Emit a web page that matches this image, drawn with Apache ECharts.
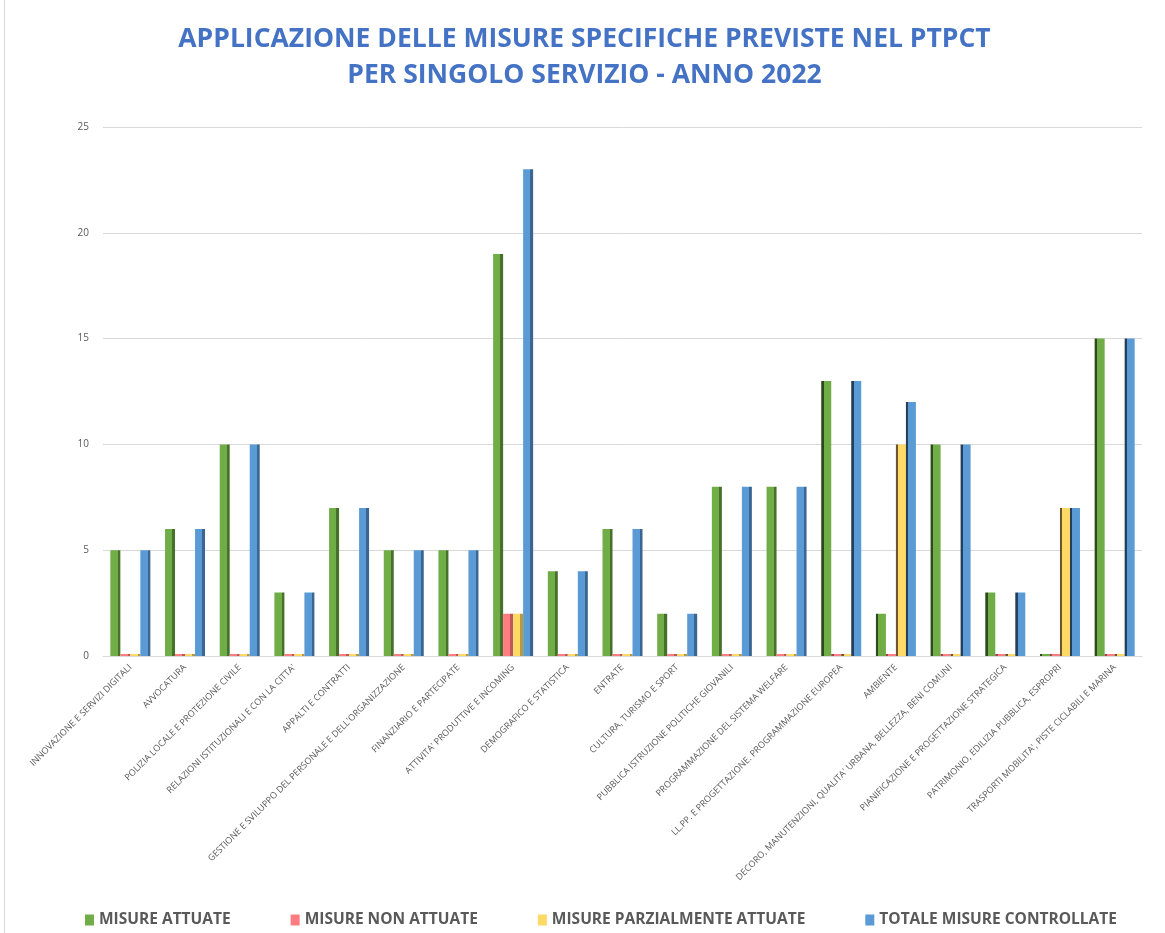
<!DOCTYPE html>
<html>
<head>
<meta charset="utf-8">
<script src="https://cdn.jsdelivr.net/npm/echarts@6/dist/echarts.min.js"></script>
<style>
  html, body { margin: 0; padding: 0; background: #fff; }
  #main { position: absolute; left: 4px; top: 0; width: 1160px; height: 933px; border-left: 1px solid #d9d9d9; box-sizing: border-box; }
</style>
</head>
<body>
<div id="main"></div>
<script>
var categories = [
  'INNOVAZIONE E SERVIZI DIGITALI',
  'AVVOCATURA',
  'POLIZIA LOCALE E PROTEZIONE CIVILE',
  "RELAZIONI ISTITUZIONALI E CON LA CITTA'",
  'APPALTI E CONTRATTI',
  "GESTIONE E SVILUPPO DEL PERSONALE E DELL'ORGANIZZAZIONE",
  'FINANZIARIO E PARTECIPATE',
  "ATTIVITA' PRODUTTIVE E INCOMING",
  'DEMOGRAFICO E STATISTICA',
  'ENTRATE',
  'CULTURA, TURISMO E SPORT',
  'PUBBLICA ISTRUZIONE POLITICHE GIOVANILI',
  'PROGRAMMAZIONE DEL SISTEMA WELFARE',
  'LL.PP. E PROGETTAZIONE. PROGRAMMAZIONE EUROPEA',
  'AMBIENTE',
  "DECORO, MANUTENZIONI, QUALITA' URBANA, BELLEZZA, BENI COMUNI",
  'PIANIFICAZIONE E PROGETTAZIONE STRATEGICA',
  'PATRIMONIO, EDILIZIA PUBBLICA, ESPROPRI',
  "TRASPORTI MOBILITA', PISTE CICLABILI E MARINA"
];
var attuate      = [5, 6, 10, 3, 7, 5, 5, 19, 4, 6, 2, 8, 8, 13, 2, 10, 3, 0, 15];
var nonAttuate   = [0, 0, 0, 0, 0, 0, 0, 2, 0, 0, 0, 0, 0, 0, 0, 0, 0, 0, 0];
var parzialmente = [0, 0, 0, 0, 0, 0, 0, 2, 0, 0, 0, 0, 0, 0, 10, 0, 0, 7, 0];
var totale       = [5, 6, 10, 3, 7, 5, 5, 23, 4, 6, 2, 8, 8, 13, 12, 10, 3, 7, 15];

var seriesNames = ['MISURE ATTUATE', 'MISURE NON ATTUATE', 'MISURE PARZIALMENTE ATTUATE', 'TOTALE MISURE CONTROLLATE'];
var fronts = ['#70AD47', '#FF7C80', '#FFD966', '#5B9BD5'];
var sides  = ['#46702c', '#c0585b', '#b89a3e', '#3a6691'];
var sidesLeft = ['#2e4a1c', '#a04448', '#6a552a', '#253f5a'];

// fake 3D side: right side dark for left part of the chart, left side dark for right part
function faceRight(front, side) {
  return new echarts.graphic.LinearGradient(0, 0, 1, 0, [
    { offset: 0, color: front },
    { offset: 0.72, color: front },
    { offset: 0.72, color: side },
    { offset: 1, color: side }
  ]);
}
function faceLeft(front, side) {
  return new echarts.graphic.LinearGradient(0, 0, 1, 0, [
    { offset: 0, color: side },
    { offset: 0.25, color: side },
    { offset: 0.25, color: front },
    { offset: 1, color: front }
  ]);
}

function bar(k, values) {
  return {
    name: seriesNames[k],
    type: 'bar',
    barWidth: 10,
    barGap: '0%',
    barMinHeight: 2,
    itemStyle: { color: fronts[k] },
    data: values.map(function (v, i) {
      return {
        value: v,
        itemStyle: {
          color: i < 13 ? faceRight(fronts[k], sides[k]) : faceLeft(fronts[k], sidesLeft[k])
        }
      };
    })
  };
}

var myChart = echarts.init(document.getElementById('main'));
var option = {
  title: {
    text: 'APPLICAZIONE DELLE MISURE SPECIFICHE PREVISTE NEL PTPCT\nPER SINGOLO SERVIZIO - ANNO 2022',
    left: 'center',
    top: 16,
    textStyle: {
      fontFamily: 'Open Sans',
      fontWeight: 'bold',
      fontSize: 26.5,
      lineHeight: 36,
      color: '#4472C4'
    }
  },
  legend: {
    bottom: 0,
    left: 75,
    itemGap: 60,
    itemWidth: 9,
    itemHeight: 11,
    icon: 'rect',
    textStyle: {
      fontFamily: 'Open Sans',
      fontWeight: 'bold',
      fontSize: 15.5,
      color: '#595959'
    },
    data: seriesNames.map(function (n, k) {
      return { name: n, itemStyle: { color: fronts[k] } };
    })
  },
  grid: {
    left: 98,
    right: 22,
    top: 127,
    bottom: 277
  },
  xAxis: {
    type: 'category',
    data: categories,
    axisTick: { show: false },
    axisLine: { lineStyle: { color: '#d9d9d9' } },
    axisLabel: {
      rotate: 45,
      interval: 0,
      margin: 10,
      fontFamily: 'Open Sans',
      fontSize: 9,
      color: '#595959'
    }
  },
  yAxis: {
    type: 'value',
    min: 0,
    max: 25,
    interval: 5,
    axisLine: { show: false },
    axisTick: { show: false },
    splitLine: { lineStyle: { color: '#d9d9d9' } },
    axisLabel: {
      margin: 14,
      fontFamily: 'Open Sans',
      fontSize: 10,
      color: '#595959'
    }
  },
  series: [
    bar(0, attuate),
    bar(1, nonAttuate),
    bar(2, parzialmente),
    bar(3, totale)
  ]
};
myChart.setOption(option);
</script>
</body>
</html>
